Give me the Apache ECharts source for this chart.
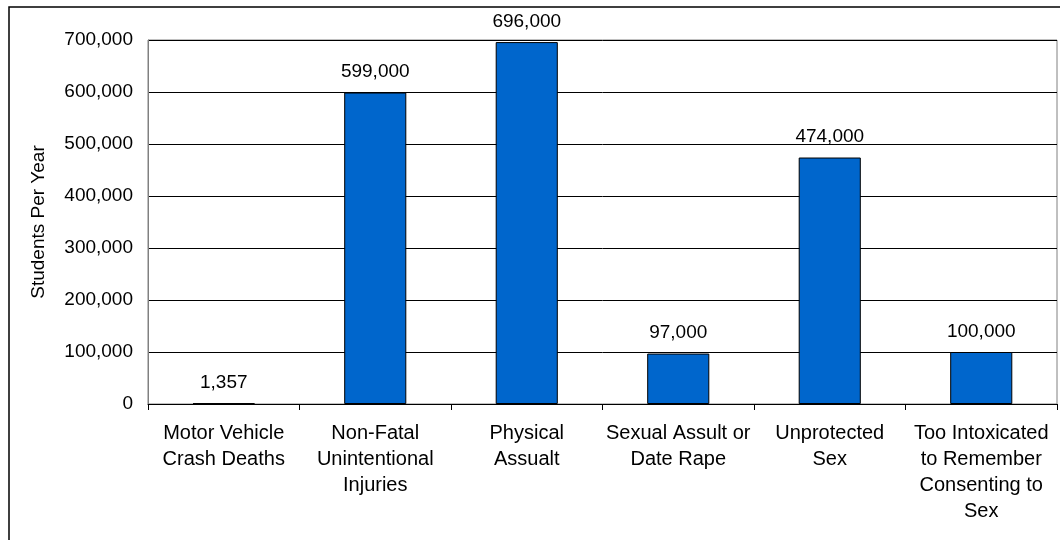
<!DOCTYPE html>
<html><head><meta charset="utf-8">
<script src="https://cdn.jsdelivr.net/npm/echarts@6/dist/echarts.min.js"></script>
<style>html,body{margin:0;padding:0;background:#fff}#c{width:1060px;height:540px}</style>
</head><body><div id="c"></div>
<script>
const categories = [
  "Motor Vehicle\nCrash Deaths",
  "Non-Fatal\nUnintentional\nInjuries",
  "Physical\nAssualt",
  "Sexual Assult or\nDate Rape",
  "Unprotected\nSex",
  "Too Intoxicated\nto Remember\nConsenting to\nSex"
];
const studentsPerYear = [1357, 599000, 696000, 97000, 474000, 100000];
const yAxisName = "Students Per Year";

const FONT = "'Liberation Sans', Arial, sans-serif";
const fmt = v => Number(v).toLocaleString('en-US');
const chart = echarts.init(document.getElementById('c'), null, {renderer: 'canvas'});
chart.setOption({
  animation: false,
  backgroundColor: '#fff',
  textStyle: {fontFamily: FONT},
  graphic: [{
    type: 'rect', silent: true, z: -1,
    shape: {x: 9, y: 7, width: 1080, height: 560},
    style: {fill: 'none', stroke: '#000', lineWidth: 1.5}
  }],
  grid: {left: 148, right: 3, top: 40, bottom: 136, show: true, borderColor: '#808080', borderWidth: 1, backgroundColor: 'transparent'},
  xAxis: {
    type: 'category', data: categories,
    axisLine: {show: true, lineStyle: {color: '#000', width: 1}},
    axisTick: {show: true, alignWithLabel: false, length: 6, lineStyle: {color: '#000'}},
    axisLabel: {color: '#000', fontSize: 20, fontFamily: FONT, lineHeight: 26, margin: 16, interval: 0, align: 'center'}
  },
  yAxis: {
    type: 'value', min: 0, max: 700000, interval: 100000,
    name: yAxisName, nameLocation: 'middle', nameGap: 100, nameRotate: 90,
    nameTextStyle: {color: '#000', fontSize: 19, fontFamily: FONT},
    axisLine: {show: true, lineStyle: {color: '#808080', width: 1}},
    axisTick: {show: false},
    splitLine: {show: true, lineStyle: {color: '#000', width: 1}},
    axisLabel: {color: '#000', fontSize: 19, fontFamily: FONT, margin: 15, formatter: fmt}
  },
  series: [{
    type: 'bar', data: studentsPerYear, barWidth: '41%',
    itemStyle: {color: '#0066CC', borderColor: '#000', borderWidth: 1},
    label: {show: true, position: 'top', distance: 11, color: '#000', fontSize: 19, fontFamily: FONT, formatter: p => fmt(p.value)}
  }]
});
</script></body></html>
